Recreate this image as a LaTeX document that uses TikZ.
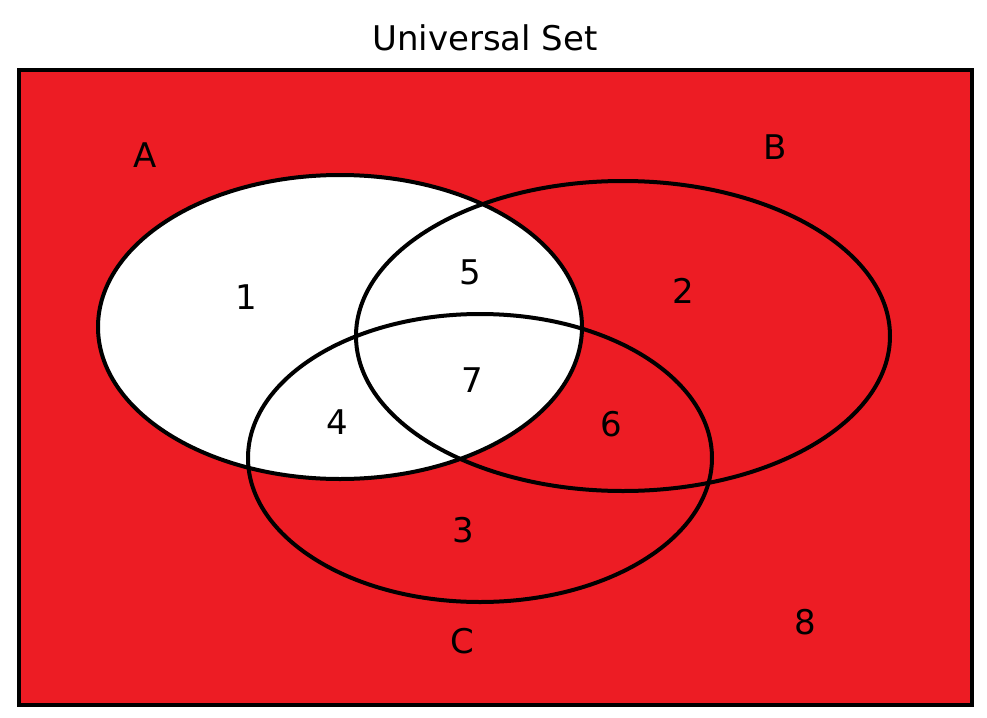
\documentclass[tikz,border=0pt]{standalone}
\usepackage{fontspec}
\setmainfont{DejaVu Sans}
\definecolor{vred}{RGB}{237,28,36}
\begin{document}
\begin{tikzpicture}[x=0.5pt,y=-0.5pt,
  lbl/.style={font=\fontsize{17}{20}\selectfont,inner sep=0pt},
  ring/.style={line width=2pt,draw=black}]
\useasboundingbox (0,0) rectangle (987,718);
\node[lbl,font=\fontsize{17}{20}\selectfont] (title) at (485,38) {Universal Set};
\filldraw[fill=vred,line width=2pt] (19,70) rectangle (972,705);
\fill[white] (340,327) ellipse [x radius=242,y radius=152];
\draw[ring] (340,327) ellipse [x radius=242,y radius=152];
\draw[ring] (623,336) ellipse [x radius=267,y radius=155];
\draw[ring] (480,458) ellipse [x radius=232,y radius=144];
\node[lbl] (A) at (145,155) {A};
\node[lbl] (B) at (775,147) {B};
\node[lbl] (C) at (462,641) {C};
\node[lbl] (n1) at (246,297) {1};
\node[lbl] (n2) at (683,291) {2};
\node[lbl] (n3) at (463,530) {3};
\node[lbl] (n4) at (337,422) {4};
\node[lbl] (n5) at (470,272) {5};
\node[lbl] (n6) at (611,424) {6};
\node[lbl] (n7) at (472,380) {7};
\node[lbl] (n8) at (805,622) {8};
\end{tikzpicture}
\end{document}
